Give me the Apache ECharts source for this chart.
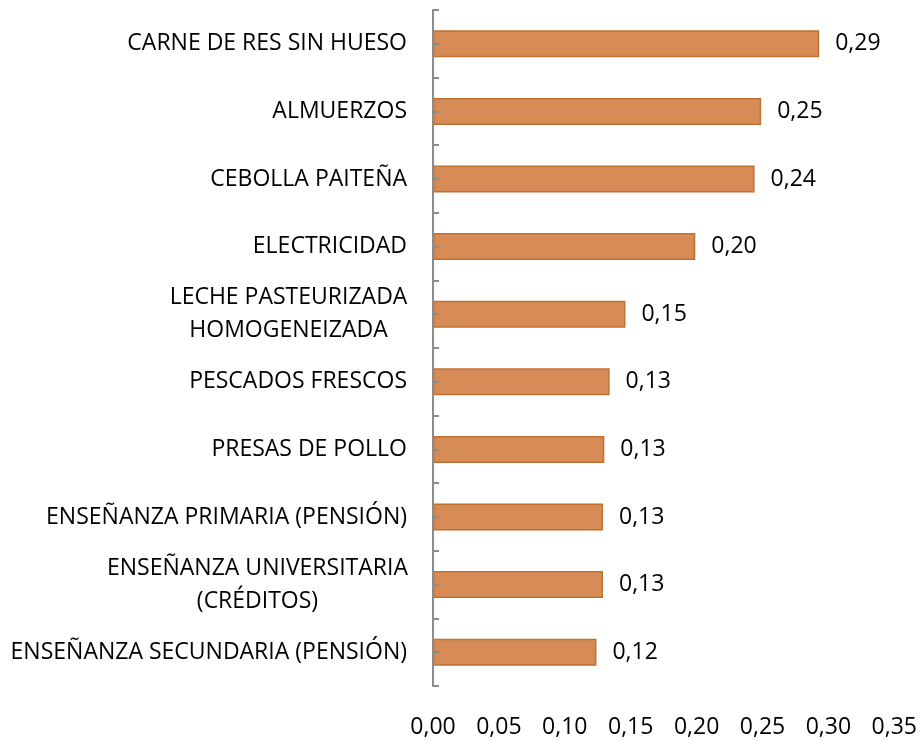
<!DOCTYPE html>
<html>
<head>
<meta charset="utf-8">
<script src="https://cdn.jsdelivr.net/npm/echarts@6/dist/echarts.min.js"></script>
<style>
  html, body { margin: 0; padding: 0; background: #fff; }
  #main { width: 920px; height: 741px; }
</style>
</head>
<body>
<div id="main"></div>
<script>
// categories from bottom to top (category axis on y starts at bottom)
const categories = [
  'ENSEÑANZA SECUNDARIA (PENSIÓN)',
  'ENSEÑANZA UNIVERSITARIA\n(CRÉDITOS)',
  'ENSEÑANZA PRIMARIA (PENSIÓN)',
  'PRESAS DE POLLO',
  'PESCADOS FRESCOS',
  'LECHE PASTEURIZADA\nHOMOGENEIZADA',
  'ELECTRICIDAD',
  'CEBOLLA PAITEÑA',
  'ALMUERZOS',
  'CARNE DE RES SIN HUESO'
]
const values = [0.124, 0.129, 0.129, 0.13, 0.134, 0.146, 0.199, 0.244, 0.249, 0.293]

const font = '"Open Sans", "Noto Sans", sans-serif'
const fs = 23
const fmt = v => v.toFixed(2).replace('.', ',')

var myChart = echarts.init(document.getElementById('main'))

var option = {
  animation: false,
  grid: { left: 433, right: 25, top: 10, bottom: 55 },
  xAxis: {
    type: 'value',
    min: 0,
    max: 0.35,
    interval: 0.05,
    axisLine: { show: false },
    axisTick: { show: false },
    splitLine: { show: false },
    axisLabel: {
      margin: 30,
      fontFamily: font,
      fontSize: fs,
      color: '#000',
      formatter: v => fmt(v)
    }
  },
  yAxis: [
    {
      type: 'category',
      data: categories,
      axisLine: { show: false },
      axisTick: { show: false },
      axisLabel: {
        margin: 26,
        fontFamily: font,
        fontSize: fs,
        color: '#000',
        lineHeight: 33,
        formatter: function (v) {
          if (v.indexOf('\n') < 0) return v
          // centre the two lines of a wrapped label on each other
          const key = v.indexOf('LECHE') === 0 ? 'a' : 'b'
          return v.split('\n').map(s => '{' + key + '|' + s + '}').join('\n')
        },
        rich: {
          a: { width: 237, align: 'center', fontFamily: font, fontSize: fs, color: '#000', lineHeight: 33 },
          b: { width: 299, align: 'center', fontFamily: font, fontSize: fs, color: '#000', lineHeight: 33 }
        }
      }
    },
    {
      // overlay axis: draws the grey line with ticks every half category
      type: 'category',
      position: 'left',
      z: 5,
      data: categories.concat(categories).map(() => ''),
      axisLine: { show: true, lineStyle: { color: '#8c8c8c', width: 2 } },
      axisTick: { show: true, inside: true, length: 6, interval: 0, lineStyle: { color: '#8c8c8c', width: 2 } },
      axisLabel: { show: false }
    }
  ],
  series: [
    {
      type: 'bar',
      yAxisIndex: 0,
      data: values,
      barCategoryGap: '60%',
      itemStyle: { color: '#D78B56', borderColor: '#C0702F', borderWidth: 1.5 },
      label: {
        show: true,
        position: 'right',
        distance: 16,
        fontFamily: font,
        fontSize: fs,
        color: '#000',
        formatter: p => fmt(p.value)
      }
    }
  ]
}
myChart.setOption(option)
</script>
</body>
</html>
